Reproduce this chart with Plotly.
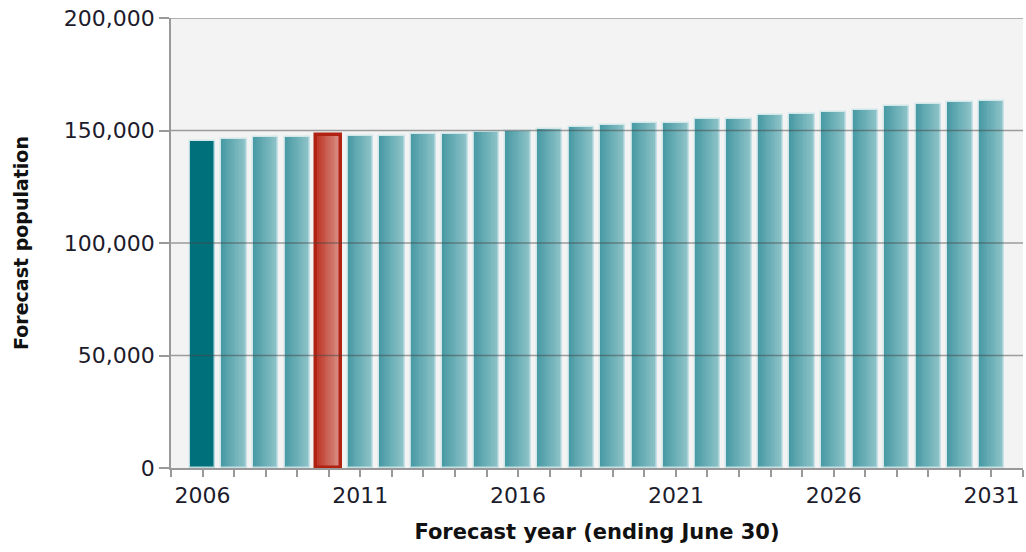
import plotly.graph_objects as go

years = list(range(2006, 2032))
population = [145300, 146100, 147000, 147000, 148100, 147700, 147700, 148400, 148400,
              149500, 149900, 150800, 151700, 152400, 153300, 153300, 155000, 155000,
              156800, 157500, 158400, 159100, 160900, 161600, 162500, 163200]
y_ticks = [0, 50000, 100000, 150000, 200000]
x_labels = [2006, 2011, 2016, 2021, 2026, 2031]
highlight_year = 2010
base_year = 2006

def lerp(c1, c2, t):
    return "rgb(%d,%d,%d)" % tuple(round(a + (b - a) * t) for a, b in zip(c1, c2))

teal_l, teal_r = (72, 154, 164), (142, 195, 200)
red_l, red_r = (188, 52, 36), (218, 146, 138)
solid = (0, 113, 123)

N = 14
W = 0.8
fig = go.Figure()
for k in range(N):
    t = k / (N - 1)
    cols = []
    for yr in years:
        if yr == base_year:
            cols.append(lerp(solid, solid, 0))
        elif yr == highlight_year:
            cols.append(lerp(red_l, red_r, t))
        else:
            cols.append(lerp(teal_l, teal_r, t))
    fig.add_trace(go.Bar(
        x=years, y=population, width=W / N + 0.002, offset=-W / 2 + k * W / N,
        marker=dict(color=cols, line=dict(width=0)), showlegend=False,
        hoverinfo="skip"))

line_cols = []
line_w = []
for yr in years:
    if yr == highlight_year:
        line_cols.append("rgb(176,34,18)")
        line_w.append(3.5)
    else:
        line_cols.append("rgba(205,230,233,0.9)")
        line_w.append(1.5)
fig.add_trace(go.Bar(
    x=years, y=population, width=W, offset=-W / 2,
    marker=dict(color="rgba(0,0,0,0)", line=dict(color=line_cols, width=line_w)),
    showlegend=False, hovertemplate="%{x}: %{y:,}<extra></extra>"))

shapes = []
for v in y_ticks[1:]:
    shapes.append(dict(type="line", xref="paper", x0=0, x1=1, yref="y", y0=v, y1=v,
                       layer="above", line=dict(color="rgba(70,70,70,0.5)", width=1.5)))

fig.update_layout(
    width=1026, height=552,
    margin=dict(l=171, r=3, t=18, b=84),
    paper_bgcolor="white", plot_bgcolor="#f3f3f3",
    barmode="overlay", bargap=0,
    shapes=shapes,
    font=dict(family="DejaVu Sans", size=22, color="#1c1c2c"),
    xaxis=dict(
        range=[2005, 2032], tickmode="array", tickvals=x_labels,
        ticks="outside", ticklen=7, tickcolor="#999", tickwidth=1.5,
        showline=True, linecolor="#999", linewidth=1.5, showgrid=False, zeroline=False,
        minor=dict(tick0=2005, dtick=1, ticks="outside", ticklen=7, tickcolor="#999", tickwidth=1.5, showgrid=False),
        tickfont=dict(size=22),
        title=dict(text="<b>Forecast year (ending June 30)</b>", font=dict(size=21, color="#111"), standoff=17),
    ),
    yaxis=dict(
        range=[0, 200000], tickmode="array", tickvals=y_ticks,
        ticktext=[f"{v:,}" for v in y_ticks],
        ticks="outside", ticklen=10, tickcolor="#999", tickwidth=1.5,
        showline=True, linecolor="#999", linewidth=1.5, showgrid=False, zeroline=False,
        tickfont=dict(size=22),
        title=dict(text="<b>Forecast population</b>", font=dict(size=19, color="#111"), standoff=30),
    ),
)

fig.write_html("out.html", config={"displayModeBar": False},
               post_script="document.body.style.margin='0px';")
